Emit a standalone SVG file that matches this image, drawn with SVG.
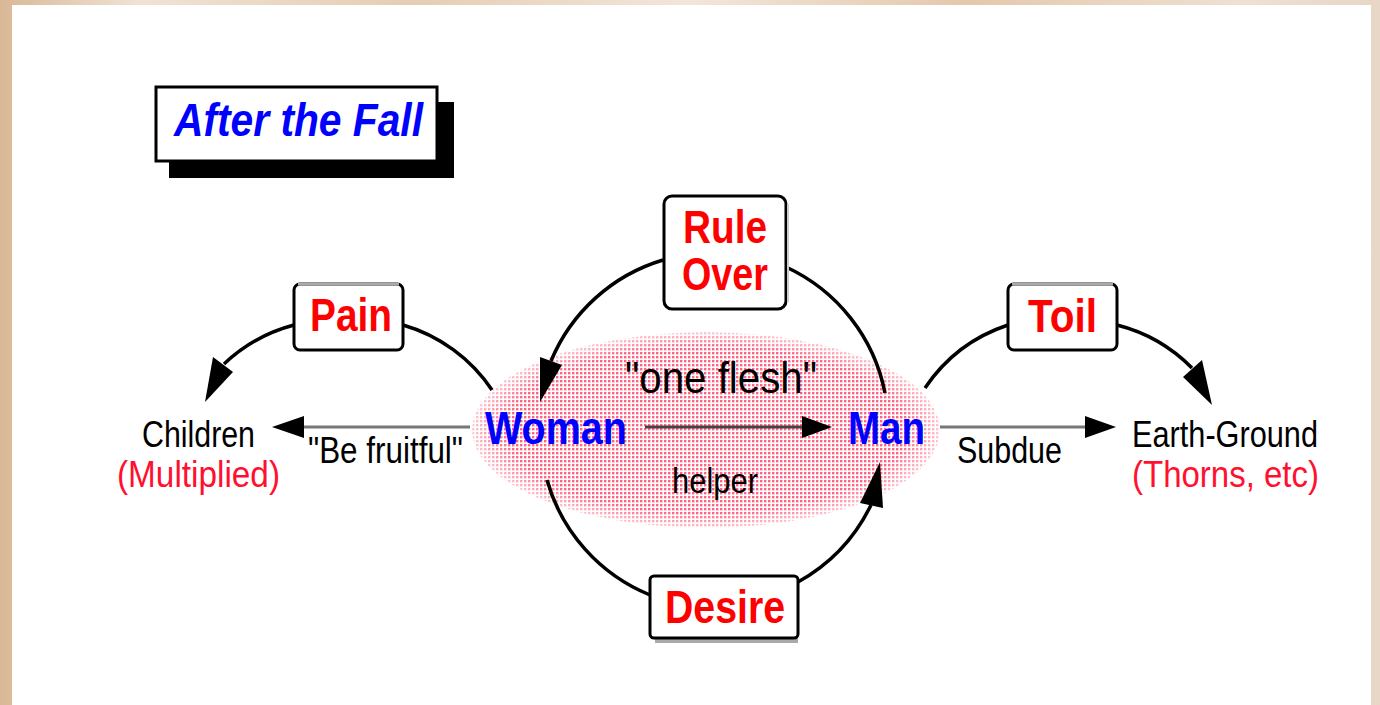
<svg xmlns="http://www.w3.org/2000/svg" width="1380" height="705" viewBox="0 0 1380 705">
  <defs>
    <style>
      .lbl { font-family: "Liberation Sans", Arial, sans-serif; font-weight: bold; fill: #ff0000; }
      .who { font-family: "Liberation Sans", Arial, sans-serif; font-weight: bold; fill: #0000ff; }
      .txt { font-family: "Liberation Sans", Arial, sans-serif; fill: #000000; }
      .red { font-family: "Liberation Sans", Arial, sans-serif; fill: #ff1030; }
      .box { fill: #ffffff; stroke: #000000; stroke-width: 3; }
      .arc { fill: none; stroke: #000000; stroke-width: 3.5; }
      .ln { stroke-width: 3; }
      .head { fill: #000000; }
    </style>
    <linearGradient id="bord" x1="0" y1="0" x2="1" y2="0">
      <stop offset="0" stop-color="#d9b896"/>
      <stop offset="0.1" stop-color="#f0e2d4"/>
      <stop offset="0.3" stop-color="#e6cdb4"/>
      <stop offset="0.5" stop-color="#f2e6da"/>
      <stop offset="0.7" stop-color="#e4c8ac"/>
      <stop offset="0.9" stop-color="#efe0d2"/>
      <stop offset="1" stop-color="#e8d6c6"/>
    </linearGradient>
    <pattern id="dots" width="4" height="4" patternUnits="userSpaceOnUse">
      <rect x="0" y="0" width="2.4" height="2.4" fill="#ff6482"/>
    </pattern>
    <radialGradient id="fade" cx="0.5" cy="0.5" r="0.5">
      <stop offset="0.85" stop-color="#fff" stop-opacity="1"/>
      <stop offset="1" stop-color="#fff" stop-opacity="0.35"/>
    </radialGradient>
    <mask id="emask" maskContentUnits="userSpaceOnUse">
      <ellipse cx="706" cy="430" rx="234" ry="98" fill="url(#fade)"/>
    </mask>
  </defs>

  <rect x="0" y="0" width="1380" height="705" fill="url(#bord)"/>
  <rect x="12" y="5" width="1359" height="700" fill="#ffffff"/>

  <g id="title">
    <rect x="169" y="102" width="285" height="76" fill="#000000"/>
    <rect x="156" y="87" width="281" height="74" fill="#ffffff" stroke="#000000" stroke-width="3"/>
    <text x="174" y="136" font-family="Liberation Sans, Arial, sans-serif" font-weight="bold" font-style="italic" font-size="46" fill="#0000ff" textLength="249" lengthAdjust="spacingAndGlyphs">After the Fall</text>
  </g>

  <g id="union">
    <ellipse cx="706" cy="430" rx="234" ry="98" fill="url(#dots)" mask="url(#emask)"/>
    <text class="txt" x="625" y="393" font-size="44" textLength="192" lengthAdjust="spacingAndGlyphs">"one flesh"</text>
    <text class="txt" x="672" y="493" font-size="35" textLength="86" lengthAdjust="spacingAndGlyphs">helper</text>
  </g>

  <g id="connectors">
    <path class="arc" d="M 403 325 A 161 161 0 0 1 492 390"/>
    <path class="arc" d="M 294 325 A 161 161 0 0 0 224 364"/>
    <polygon class="head" points="205,402 213,357 233,372"/>
    <path class="arc" d="M 925 388 A 161 161 0 0 1 1008 325"/>
    <path class="arc" d="M 1117 325 A 161 161 0 0 1 1192 368"/>
    <polygon class="head" points="1212,405 1183,377 1202,360"/>
    <path class="arc" d="M 663 260 A 176 176 0 0 0 551 361"/>
    <polygon class="head" points="540,402 540,357 562,365"/>
    <path class="arc" d="M 786 267 A 176 176 0 0 1 885 393"/>
    <path class="arc" d="M 547 480 A 176 176 0 0 0 650 595"/>
    <path class="arc" d="M 798 582 A 176 176 0 0 0 871 505"/>
    <polygon class="head" points="880,462 860,503 883,508"/>
    <line class="ln" x1="470" y1="427" x2="300" y2="427" stroke="#777777"/>
    <polygon class="head" points="272,427 304,416 304,438"/>
    <line class="ln" x1="645" y1="427" x2="806" y2="427" stroke="#444444"/>
    <polygon class="head" points="832,427 802,416 802,438"/>
    <line class="ln" x1="940" y1="427" x2="1090" y2="427" stroke="#777777"/>
    <polygon class="head" points="1116,427 1085,416 1085,438"/>
  </g>

  <g id="woman">
    <text class="who" x="485" y="444" font-size="46" textLength="142" lengthAdjust="spacingAndGlyphs">Woman</text>
  </g>
  <g id="man">
    <text class="who" x="848" y="444" font-size="46" textLength="77" lengthAdjust="spacingAndGlyphs">Man</text>
  </g>

  <g id="pain">
    <rect class="box" x="294" y="284" width="109" height="66" rx="6"/>
    <line x1="298" y1="284" x2="399" y2="284" stroke="#aaaaaa" stroke-width="3"/>
    <text class="lbl" x="310" y="331" font-size="46" textLength="82" lengthAdjust="spacingAndGlyphs">Pain</text>
  </g>

  <g id="toil">
    <rect class="box" x="1008" y="284" width="109" height="66" rx="6"/>
    <line x1="1012" y1="284" x2="1113" y2="284" stroke="#aaaaaa" stroke-width="3"/>
    <text class="lbl" x="1028" y="332" font-size="46" textLength="69" lengthAdjust="spacingAndGlyphs">Toil</text>
  </g>

  <g id="rule-over">
    <rect class="box" x="664" y="196" width="122" height="113" rx="8"/>
    <line x1="788" y1="204" x2="788" y2="302" stroke="#cccccc" stroke-width="2"/>
    <text class="lbl" x="683" y="243" font-size="46" textLength="84" lengthAdjust="spacingAndGlyphs">Rule</text>
    <text class="lbl" x="682" y="290" font-size="46" textLength="86" lengthAdjust="spacingAndGlyphs">Over</text>
  </g>

  <g id="desire">
    <rect x="655" y="636" width="143" height="7" fill="#aaaaaa"/>
    <rect class="box" x="650" y="576" width="148" height="62" rx="4"/>
    <text class="lbl" x="665" y="623" font-size="46" textLength="120" lengthAdjust="spacingAndGlyphs">Desire</text>
  </g>

  <g id="children">
    <text class="txt" x="142" y="447" font-size="36" textLength="113" lengthAdjust="spacingAndGlyphs">Children</text>
    <text class="red" x="117" y="487" font-size="36" textLength="163" lengthAdjust="spacingAndGlyphs">(Multiplied)</text>
  </g>
  <g id="be-fruitful">
    <text class="txt" x="308" y="463" font-size="36" textLength="155" lengthAdjust="spacingAndGlyphs">"Be fruitful"</text>
  </g>
  <g id="subdue">
    <text class="txt" x="957" y="463" font-size="36" textLength="105" lengthAdjust="spacingAndGlyphs">Subdue</text>
  </g>
  <g id="earth">
    <text class="txt" x="1132" y="447" font-size="36" textLength="186" lengthAdjust="spacingAndGlyphs">Earth-Ground</text>
    <text class="red" x="1132" y="487" font-size="36" textLength="187" lengthAdjust="spacingAndGlyphs">(Thorns, etc)</text>
  </g>
</svg>
